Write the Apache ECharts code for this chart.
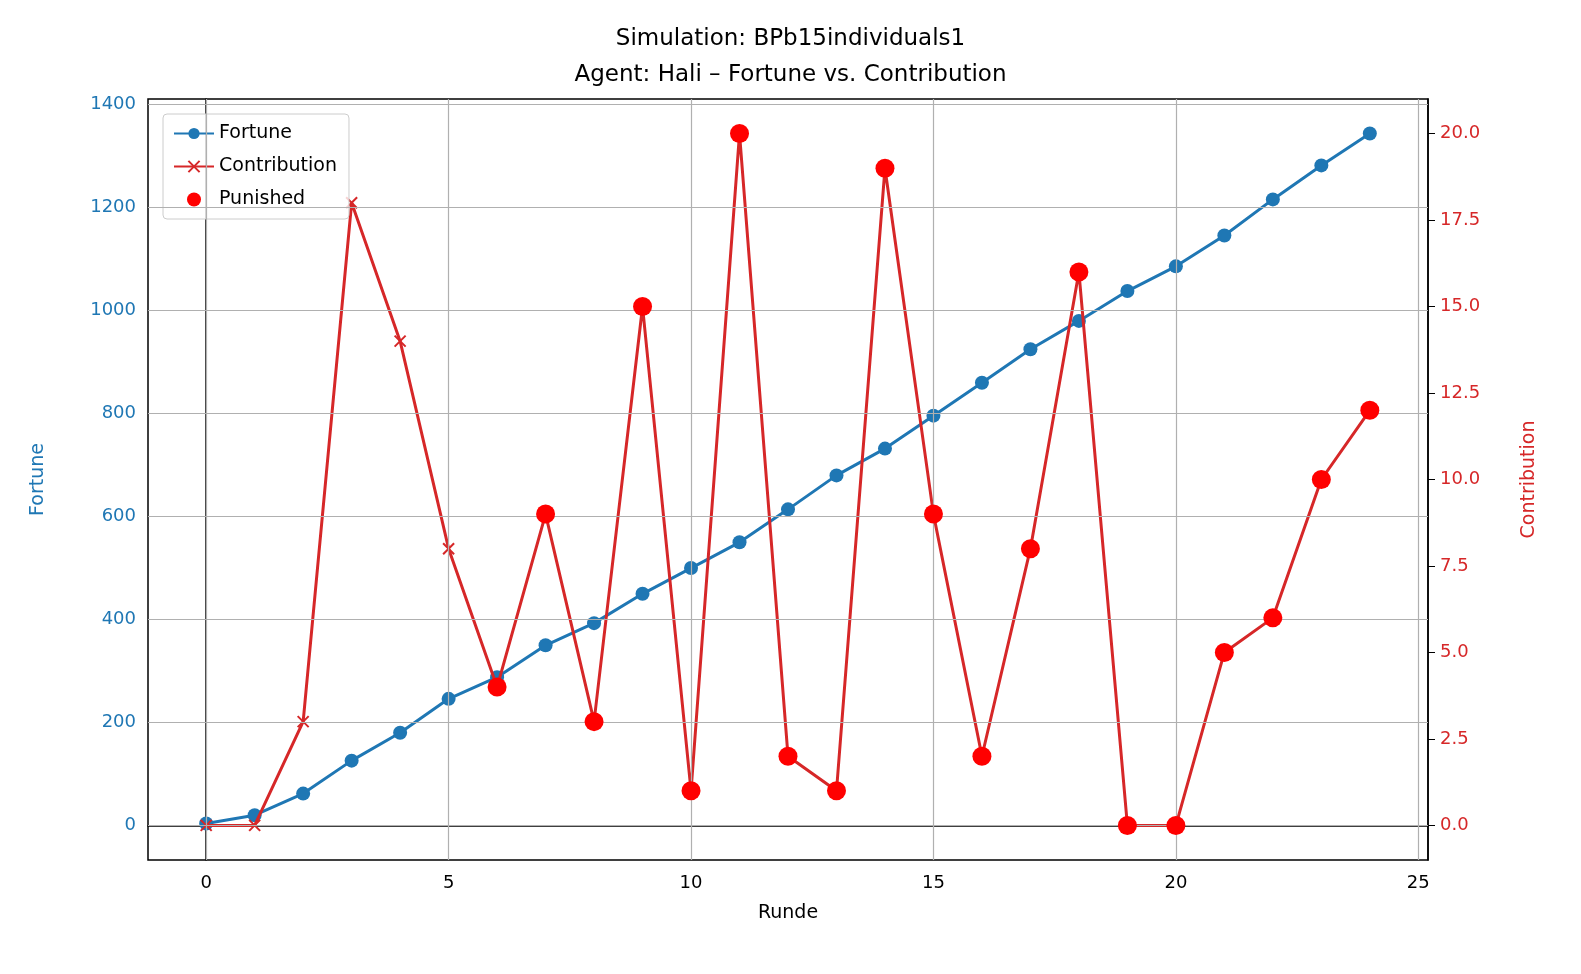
<!DOCTYPE html>
<html><head><meta charset="utf-8">
<script src="https://cdn.jsdelivr.net/npm/echarts@6/dist/echarts.min.js"></script>
<style>html,body{margin:0;padding:0;background:#fff;overflow:hidden}#c{width:1581px;height:974px}</style>
</head><body><div id="c"></div>
<script>
const rounds = [0,1,2,3,4,5,6,7,8,9,10,11,12,13,14,15,16,17,18,19,20,21,22,23,24];
const fortune = [4,20,62,126,180,246,288,350,393,450,500,550,614,680,732,796,860,925,980,1038,1086,1146,1216,1282,1344];
const contribution = [0,0,3,18,14,8,4,9,3,15,1,20,2,1,19,9,2,8,16,0,0,5,6,10,12];
const punishedRounds = [6,7,8,9,10,11,12,13,14,15,16,17,18,19,20,21,22,23,24];
const xTicks = [0,5,10,15,20,25];
const fTicks = [0,200,400,600,800,1000,1200,1400];
const cTicks = [0,2.5,5,7.5,10,12.5,15,17.5,20];
const font = 'DejaVu Sans';
const chart = echarts.init(document.getElementById('c'));
chart.setOption({
  animation:false,
  textStyle:{fontFamily:font},
  title:{text:'Simulation: BPb15individuals1\nAgent: Hali – Fortune vs. Contribution',left:'center',top:16,
    textStyle:{fontFamily:font,fontSize:23,fontWeight:'normal',color:'#000',lineHeight:36}},
  grid:{left:148,right:153,top:99,bottom:114,containLabel:false,outerBoundsMode:'none',show:true,borderColor:'#000',borderWidth:1.5},
  legend:{left:163,top:114,orient:'vertical',itemGap:14,itemWidth:40,itemHeight:14,
    padding:[10,12,10,10],borderColor:'#ccc',borderWidth:1,borderRadius:4,backgroundColor:'rgba(255,255,255,0.8)',
    textStyle:{fontFamily:font,fontSize:19,color:'#000'},
    data:[{name:'Fortune'},{name:'Contribution'},{name:'Punished'}]},
  xAxis:{type:'value',min:-1.2,max:25.2,
    name:'Runde',nameLocation:'middle',nameGap:44,nameTextStyle:{fontSize:19,color:'#000'},
    axisLine:{lineStyle:{color:'#000',width:1.5}},
    axisLabel:{fontSize:18,color:'#000',margin:14,customValues:xTicks},
    axisTick:{customValues:xTicks,length:7,lineStyle:{color:'#000'}},
    splitLine:{show:false}},
  yAxis:[
    {type:'value',min:-67,max:1411,
      name:'Fortune',nameLocation:'middle',nameGap:100,nameTextStyle:{fontSize:19,color:'#1f77b4'},
      axisLine:{show:true,lineStyle:{color:'#000',width:1.5}},
      axisTick:{show:true,length:7,lineStyle:{color:'#000'},customValues:fTicks},
      axisLabel:{fontSize:18,color:'#1f77b4',margin:12,customValues:fTicks,formatter:v=>String(v)},
      splitLine:{show:false}},
    {type:'value',min:-1,max:21,
      name:'Contribution',nameLocation:'middle',nameGap:92,nameTextStyle:{fontSize:19,color:'#d62728'},
      axisLine:{show:true,lineStyle:{color:'#000',width:1.5}},
      axisTick:{show:true,length:7,lineStyle:{color:'#000'},customValues:cTicks},
      axisLabel:{fontSize:18,color:'#d62728',margin:12,customValues:cTicks,formatter:v=>v.toFixed(1)},
      splitLine:{show:false}}
  ],
  series:[
    {type:'line',name:'gridX',silent:true,data:[],markLine:{symbol:'none',silent:true,label:{show:false},
      lineStyle:{color:'#b0b0b0',width:1.2,type:'solid'},
      data:xTicks.map(v=>({xAxis:v})).concat(fTicks.map(v=>({yAxis:v})))}},
    {type:'line',name:'Fortune',data:rounds.map((r,i)=>[r,fortune[i]]),yAxisIndex:0,
      symbol:'circle',symbolSize:14,itemStyle:{color:'#1f77b4'},lineStyle:{color:'#1f77b4',width:3},z:2},
    {type:'line',name:'Contribution',data:rounds.map((r,i)=>[r,contribution[i]]),yAxisIndex:1,
      symbol:'path://M-1,-1L1,1M1,-1L-1,1',symbolSize:11,
      itemStyle:{color:'#d62728',borderColor:'#d62728',borderWidth:2},lineStyle:{color:'#d62728',width:3},z:3},
    {type:'scatter',name:'Punished',data:punishedRounds.map(r=>[r,contribution[r]]),yAxisIndex:1,
      symbolSize:19,itemStyle:{color:'#ff0000',opacity:1},z:6}
  ]
});
</script></body></html>
